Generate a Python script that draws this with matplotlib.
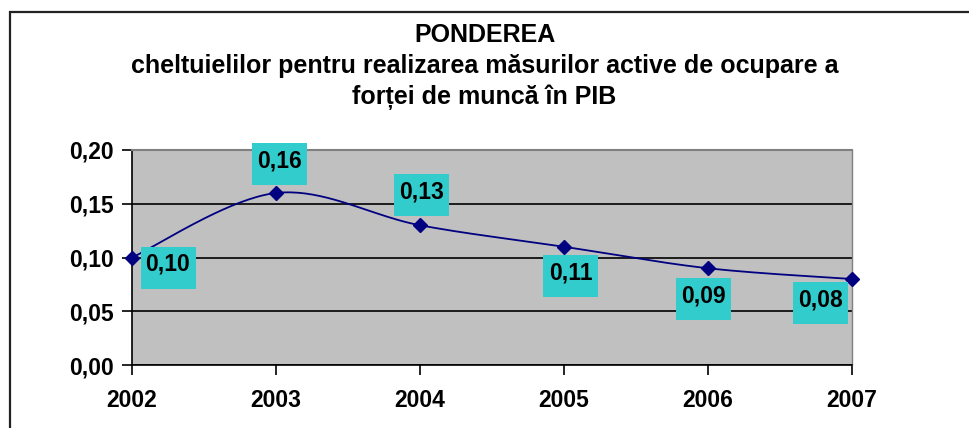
import numpy as np
import matplotlib
matplotlib.use("Agg")
import matplotlib.pyplot as plt
from matplotlib.patches import Rectangle
from matplotlib.transforms import ScaledTranslation

years = [2002, 2003, 2004, 2005, 2006, 2007]
values = [0.10, 0.16, 0.13, 0.11, 0.09, 0.08]
value_labels = ["0,10", "0,16", "0,13", "0,11", "0,09", "0,08"]
yticks = [0.00, 0.05, 0.10, 0.15, 0.20]
ytick_labels = ["0,00", "0,05", "0,10", "0,15", "0,20"]
# label box centre offsets from the point, in pixels (x right, y up)
label_offsets = [(36, -10), (3.5, 29), (1.5, 30), (6.5, -29), (-4.5, -31), (-31.5, -24)]

title_lines = ["PONDEREA",
               "cheltuielilor pentru realizarea măsurilor active de ocupare a",
               "forței de muncă în PIB"]

plt.rcParams["font.family"] = ["Liberation Sans", "DejaVu Sans"]
plt.rcParams["font.weight"] = "bold"

W, H = 969, 428
DPI = 100
fig = plt.figure(figsize=(W / DPI, H / DPI), dpi=DPI)

# outer chart frame (cut off on right and bottom)
fig.patches.append(Rectangle((10 / W, -0.1), 1.2, (H - 12) / H + 0.1,
                             transform=fig.transFigure, fill=False,
                             edgecolor="#222222", linewidth=1.6))

ax = fig.add_axes([132 / W, (H - 365) / H, 720 / W, 215 / H])
ax.set_facecolor("#C0C0C0")


def smooth(xs, ys, n=40):
    # cardinal spline through the points, similar to Excel's smoothed line
    px = np.array(xs, float)
    py = np.array(ys, float)
    px = np.concatenate([[px[0]], px, [px[-1]]])
    py = np.concatenate([[py[0]], py, [py[-1]]])
    out_x, out_y = [], []
    t = np.linspace(0, 1, n)
    for i in range(1, len(px) - 2):
        for arr, out in ((px, out_x), (py, out_y)):
            p0, p1, p2, p3 = arr[i - 1], arr[i], arr[i + 1], arr[i + 2]
            c1 = p1 + (p2 - p0) / 6
            c2 = p2 - (p3 - p1) / 6
            out.extend((1 - t) ** 3 * p1 + 3 * (1 - t) ** 2 * t * c1
                       + 3 * (1 - t) * t ** 2 * c2 + t ** 3 * p2)
    return out_x, out_y


sx, sy = smooth(years, values)
ax.plot(sx, sy, color="#000080", linewidth=1.3, zorder=3)
ax.plot(years, values, linestyle="none", marker="D", markersize=7.5,
        color="#000080", zorder=4, clip_on=False)

# data labels: fixed-size cyan boxes (55 x 42 px) placed relative to each point
for x, v, lab, (dx, dy) in zip(years, values, value_labels, label_offsets):
    tr = fig.dpi_scale_trans + ScaledTranslation(x, v, ax.transData)
    bw, bh = 55 / DPI, 42 / DPI
    cx, cy = dx / DPI, dy / DPI
    ax.add_patch(Rectangle((cx - bw / 2, cy - bh / 2), bw, bh, transform=tr,
                           facecolor="#33CCCC", edgecolor="none", zorder=5, clip_on=False))
    ax.text(cx, cy + 3 / DPI, lab, transform=tr, ha="center", va="center",
            fontsize=16.5, fontweight="bold", zorder=6, clip_on=False)

ax.set_xlim(years[0], years[-1])
ax.set_ylim(0, 0.20)
ax.set_yticks(yticks)
ax.set_yticklabels(ytick_labels)
ax.set_xticks(years)
ax.set_xticklabels([str(y) for y in years])
ax.yaxis.grid(True, color="black", linewidth=1.2)
ax.set_axisbelow(True)
ax.tick_params(axis="both", direction="out", length=7, width=1.2, color="black",
               labelsize=16.5)
ax.tick_params(axis="x", pad=10)
ax.tick_params(axis="y", pad=6)
for lbl in ax.get_xticklabels() + ax.get_yticklabels():
    lbl.set_fontweight("bold")

ax.spines["left"].set_color("black")
ax.spines["bottom"].set_color("black")
ax.spines["left"].set_linewidth(1.2)
ax.spines["bottom"].set_linewidth(1.2)
ax.spines["top"].set_color("#808080")
ax.spines["right"].set_color("#808080")
ax.spines["top"].set_linewidth(1.5)
ax.spines["right"].set_linewidth(1.0)

for ypix, line in zip([35, 66, 97], title_lines):
    fig.text(0.5, (H - ypix) / H, line, ha="center", va="center",
             fontsize=18, fontweight="bold")

fig.savefig("out.png", dpi=DPI)
